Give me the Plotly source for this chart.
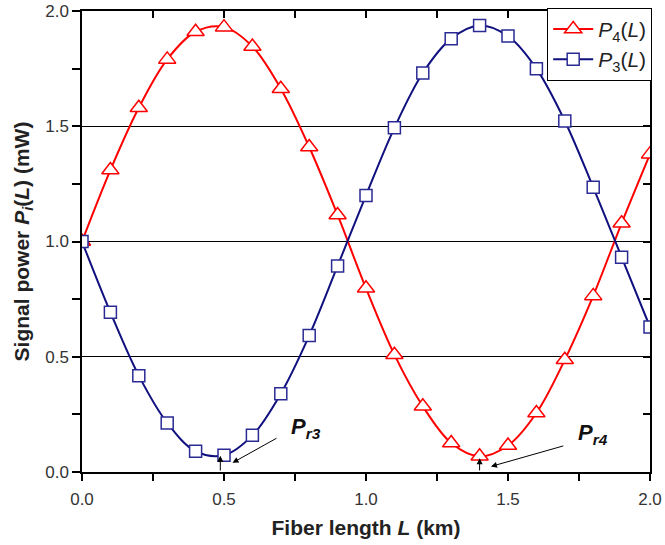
import plotly.graph_objects as go

fiber_length = [0.0, 0.1, 0.2, 0.3, 0.4, 0.5, 0.6, 0.7, 0.8, 0.9, 1.0,
                1.1, 1.2, 1.3, 1.4, 1.5, 1.6, 1.7, 1.8, 1.9, 2.0]
p4_values = [1.00, 1.31, 1.58, 1.79, 1.91, 1.93, 1.846, 1.663, 1.41, 1.115, 0.797,
             0.509, 0.285, 0.126, 0.068, 0.115, 0.256, 0.487, 0.764, 1.079, 1.379]
p3_values = [1.00, 0.693, 0.418, 0.213, 0.090, 0.073, 0.159, 0.340, 0.592, 0.894, 1.20,
             1.493, 1.731, 1.880, 1.937, 1.891, 1.750, 1.523, 1.235, 0.932, 0.629]

x_ticks = [0.0, 0.5, 1.0, 1.5, 2.0]
x_tick_labels = ["0.0", "0.5", "1.0", "1.5", "2.0"]
y_ticks = [0.0, 0.5, 1.0, 1.5, 2.0]
y_tick_labels = ["0.0", "0.5", "1.0", "1.5", "2.0"]

RED = "#ff0000"
NAVY = "#10107f"
FONT = "Liberation Sans, Arial, sans-serif"

fig = go.Figure()
fig.add_trace(go.Scatter(
    x=fiber_length, y=p4_values, name="<i>P</i><sub>4</sub>(<i>L</i>)",
    mode="lines+markers",
    line=dict(color=RED, width=2, shape="spline", smoothing=1),
    marker=dict(symbol="triangle-up", size=15, color="white",
                line=dict(color=RED, width=1.5)),
))
fig.add_trace(go.Scatter(
    x=fiber_length, y=p3_values, name="<i>P</i><sub>3</sub>(<i>L</i>)",
    mode="lines+markers",
    line=dict(color=NAVY, width=2, shape="spline", smoothing=1),
    marker=dict(symbol="square", size=12, color="white",
                line=dict(color="#2a2a95", width=1.5)),
))
# helper trace for the inward mirrored ticks on top/right
fig.add_trace(go.Scatter(x=[], y=[], xaxis="x2", yaxis="y2",
                         showlegend=False, hoverinfo="skip"))

fig.update_layout(
    width=665, height=545,
    margin=dict(l=82, r=15, t=11, b=73, autoexpand=False),
    paper_bgcolor="white", plot_bgcolor="white",
    font=dict(family=FONT, color="#333333"),
    showlegend=True,
    legend=dict(x=0.819, y=1.007, xanchor="left", yanchor="top",
                bordercolor="black", borderwidth=1, bgcolor="white",
                font=dict(size=21, color="#222222", family=FONT),
                tracegroupgap=0, itemwidth=40),
    xaxis=dict(
        range=[0, 2.0], tickvals=x_ticks, ticktext=x_tick_labels,
        ticks="outside", ticklen=7, tickwidth=1.5, tickcolor="black",
        minor=dict(dtick=0.25, tick0=0, ticks="outside", ticklen=7,
                   tickwidth=1.5, tickcolor="black"),
        showline=True, linecolor="black", linewidth=1.5, mirror=True,
        showgrid=False, zeroline=False, ticklabelstandoff=4,
        tickfont=dict(size=17, color="#333333"),
        title=dict(text="<b>Fiber length <i>L</i> (km)</b>",
                   font=dict(size=21, color="#222222"), standoff=12),
    ),
    yaxis=dict(
        range=[0, 2.0], tickvals=y_ticks, ticktext=y_tick_labels,
        ticks="outside", ticklen=8, tickwidth=1.5, tickcolor="black",
        minor=dict(dtick=0.25, tick0=0, ticks="outside", ticklen=8,
                   tickwidth=1.5, tickcolor="black"),
        showline=True, linecolor="black", linewidth=1.5, mirror=True,
        showgrid=True, gridcolor="black", gridwidth=1, zeroline=False,
        tickfont=dict(size=17, color="#333333"),
        title=dict(text="<b>Signal power <i>P<sub>i</sub></i>(<i>L</i>) (mW)</b>",
                   font=dict(size=21, color="#222222"), standoff=10),
    ),
    xaxis2=dict(
        overlaying="x", side="top", anchor="y2", range=[0, 2.0],
        dtick=0.25, tick0=0, ticks="inside", ticklen=7, tickwidth=1.5,
        tickcolor="black", showticklabels=False, showgrid=False,
        zeroline=False, showline=False,
    ),
    yaxis2=dict(
        overlaying="y", side="right", anchor="x2", range=[0, 2.0],
        dtick=0.25, tick0=0, ticks="inside", ticklen=7, tickwidth=1.5,
        tickcolor="black", showticklabels=False, showgrid=False,
        zeroline=False, showline=False,
    ),
)

ann_font = dict(size=22, color="#111111", family=FONT)
fig.add_annotation(x=0.79, y=0.19, xref="x", yref="y",
                   text="<b><i>P<sub>r3</sub></i></b>", showarrow=False, font=ann_font)
fig.add_annotation(x=1.80, y=0.165, xref="x", yref="y",
                   text="<b><i>P<sub>r4</sub></i></b>", showarrow=False, font=ann_font)
# arrows
arrow_style = dict(showarrow=True, arrowhead=2, arrowsize=1.2, arrowwidth=1,
                   arrowcolor="black", text="", xref="x", yref="y",
                   axref="x", ayref="y")
fig.add_annotation(x=0.53, y=0.04, ax=0.69, ay=0.15, **arrow_style)
fig.add_annotation(x=1.44, y=0.024, ax=1.70, ay=0.115, **arrow_style)
fig.add_annotation(x=0.487, y=0.07, ax=0.487, ay=0.0, **arrow_style)
fig.add_annotation(x=1.40, y=0.06, ax=1.40, ay=0.0, **arrow_style)

fig.write_html("out.html", config={"displayModeBar": False},
               post_script="document.body.style.margin='0';document.body.style.overflow='hidden';")
